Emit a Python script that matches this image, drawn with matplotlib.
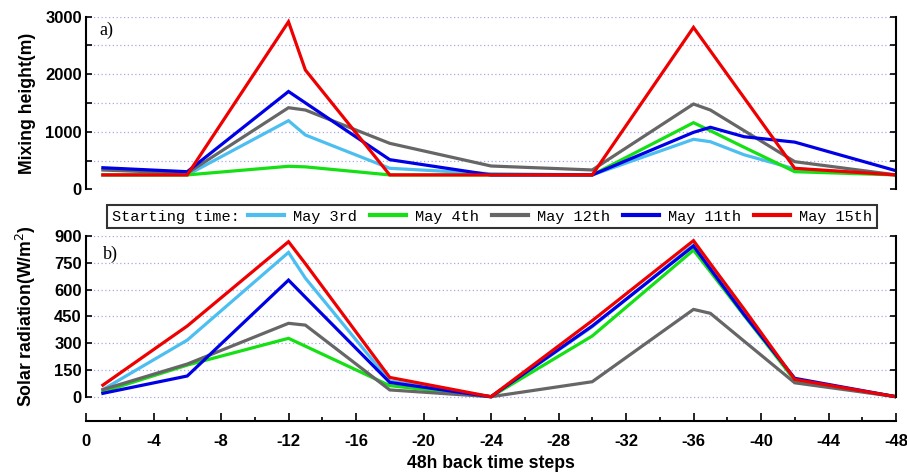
import matplotlib
matplotlib.use("Agg")
import matplotlib.pyplot as plt
from matplotlib.offsetbox import HPacker

# hours back along the trajectory
hours = [-1, -6, -12, -13, -18, -24, -30, -36, -37, -39, -42, -48]

# mixing height (m)
mh_may03 = [250, 250, 1193, 944, 365, 270, 250, 869, 827, 600, 355, 250]
mh_may04 = [250, 250, 400, 390, 250, 250, 250, 1158, 1018, 730, 306, 250]
mh_may12 = [335, 280, 1418, 1378, 799, 405, 336, 1482, 1378, 1019, 480, 250]
mh_may11 = [375, 306, 1700, 1502, 515, 250, 250, 990, 1078, 914, 820, 323]
mh_may15 = [250, 250, 2912, 2073, 250, 250, 250, 2814, 2406, 1590, 365, 250]

# solar radiation (W/m2)
sr_may03 = [40, 317, 808, 664, 88, 0, 392, 850, 723, 470, 90, 0]
sr_may04 = [28, 177, 327, 283, 62, 0, 340, 821, 700, 455, 93, 0]
sr_may12 = [40, 183, 411, 401, 38, 0, 84, 489, 467, 311, 78, 0]
sr_may11 = [19, 116, 653, 557, 80, 0, 396, 844, 715, 460, 103, 0]
sr_may15 = [65, 396, 868, 745, 108, 0, 426, 874, 745, 490, 97, 0]

names = ["May 3rd", "May 4th", "May 12th", "May 11th", "May 15th"]
colors = ["#4cbff0", "#14e014", "#666666", "#0000e6", "#ee0000"]

xticks = [0, -4, -8, -12, -16, -20, -24, -28, -32, -36, -40, -44, -48]
xticklabels = ["0", "-4", "-8", "-12", "-16", "-20", "-24", "-28", "-32", "-36", "-40", "-44", "-48"]
mh_ticks = [0, 1000, 2000, 3000]
sr_ticks = [0, 150, 300, 450, 600, 750, 900]

tickfont = dict(family="Liberation Sans", weight="bold", size=12)
gridkw = dict(color="#a8a8e6", linestyle=(0, (1, 2)), linewidth=0.9)

fig = plt.figure(figsize=(9.07, 4.75), dpi=100)
W, H = 907.0, 475.0
ax1 = fig.add_axes([86 / W, 1 - 189.3 / H, 810 / W, 172.6 / H])
ax2 = fig.add_axes([86 / W, 1 - 421 / H, 810 / W, 185 / H])

lines = []
for ys, c in zip([mh_may03, mh_may04, mh_may12, mh_may11, mh_may15], colors):
    ax1.plot(hours, ys, color=c, lw=2.3, solid_joinstyle="miter")
for ys, c in zip([sr_may03, sr_may04, sr_may12, sr_may11, sr_may15], colors):
    l, = ax2.plot(hours, ys, color=c, lw=2.3, solid_joinstyle="miter")
    lines.append(l)

# top panel
ax1.set_xlim(0, -48)
ax1.set_ylim(0, 3000)
ax1.spines["top"].set_visible(False)
ax1.spines["bottom"].set_visible(False)
for s in ["left", "right"]:
    ax1.spines[s].set_linewidth(1.5)
ax1.set_yticks(mh_ticks)
ax1.set_yticklabels([str(v) for v in mh_ticks], fontdict=tickfont)
ax1.set_yticks([500, 1500, 2500], minor=True)
ax1.tick_params(axis="y", which="both", direction="in", left=True, right=True,
                length=4.5, width=1.2, pad=3)
ax1.tick_params(axis="x", which="both", bottom=False, labelbottom=False)
for v in range(0, 3001, 500):
    ax1.axhline(v, zorder=0, **gridkw)
ax1.text(13 / 810, 0.923, "a)", transform=ax1.transAxes, family="Liberation Serif",
         size=13, va="center", ha="left")

# bottom panel
ax2.set_xlim(0, -48)
ax2.set_ylim(-136, 900)
ax2.spines["top"].set_visible(False)
ax2.spines["left"].set_bounds(0, 900)
ax2.spines["right"].set_bounds(0, 900)
for s in ["left", "right", "bottom"]:
    ax2.spines[s].set_linewidth(1.5)
ax2.set_yticks(sr_ticks)
ax2.set_yticklabels([str(v) for v in sr_ticks], fontdict=tickfont)
ax2.tick_params(axis="y", direction="in", left=True, right=True,
                length=4.5, width=1.2, pad=3)
ax2.set_xticks(xticks)
ax2.set_xticklabels(xticklabels, fontdict=tickfont)
ax2.set_xticks(range(-2, -48, -4), minor=True)
ax2.tick_params(axis="x", which="major", direction="in", length=6, width=1.2, pad=9, top=False)
ax2.tick_params(axis="x", which="minor", direction="in", length=3, width=1.2, top=False)
for v in sr_ticks:
    ax2.axhline(v, zorder=0, **gridkw)
ax2.text(17 / 810, 0.903, "b)", transform=ax2.transAxes, family="Liberation Serif",
         size=13, va="center", ha="left")

# axis labels
labfont = dict(family="Liberation Sans", weight="bold", size=12.7)
fig.text(27 / W, 1 - 103 / H, "Mixing height(m)", rotation=90, ha="center", va="center", **labfont)
fig.text(26 / W, 1 - 316 / H, "Solar radiation(W/m$^2$)", rotation=90, ha="center", va="center", **labfont)
fig.text(491 / W, 1 - 463 / H, "48h back time steps", ha="center", va="center", **labfont)

# legend: title placed to the left of the entries
leg = fig.legend(lines, names, loc="center", bbox_to_anchor=(492 / W, 1 - 216.5 / H),
                 ncol=5, title="Starting time:", frameon=True, fancybox=False,
                 prop=dict(family="Liberation Mono", size=11),
                 title_fontproperties=dict(family="Liberation Mono", size=11),
                 handlelength=2.4, handletextpad=0.6, columnspacing=0.8,
                 borderpad=0.3, borderaxespad=0)
leg.get_frame().set_edgecolor("black")
leg.get_frame().set_linewidth(1.5)
for h in leg.get_lines():
    h.set_linewidth(3)
old = leg._legend_box
newbox = HPacker(pad=old.pad, sep=6, align="center", children=old.get_children())
newbox.set_figure(fig)
newbox.axes = None
newbox.set_offset(leg._findoffset)
leg._legend_box = newbox

fig.savefig("out.png", dpi=100)
